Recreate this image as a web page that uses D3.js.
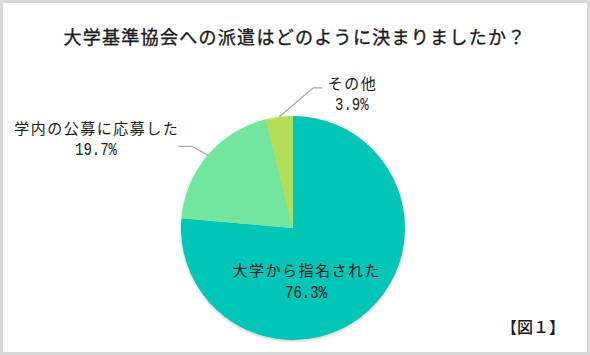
<!DOCTYPE html>
<html><head><meta charset="utf-8">
<script src="https://cdn.jsdelivr.net/npm/d3@7"></script>
<style>
html,body{margin:0;padding:0;background:#fff;}
svg{display:block;}
text{font-family:"Noto Sans CJK JP","Noto Sans",sans-serif;fill:#1a1a1a;}
.num{font-family:"Liberation Mono","DejaVu Sans Mono",monospace;}
</style></head>
<body>
<svg id="c" width="590" height="355"></svg>
<script>
const title = "大学基準協会への派遣はどのように決まりましたか？";
const categories = ["大学から指名された", "学内の公募に応募した", "その他"];
const values = [76.3, 19.7, 3.9];
const percentLabels = ["76.3%", "19.7%", "3.9%"];
const colors = ["#00c5b7", "#72e69f", "#b4de59"];
const figLabel = "【図１】";

const W = 590, H = 355;
const svg = d3.select("#c");
svg.append("rect").attr("width", W).attr("height", H).attr("fill", "#d9d9d9");
svg.append("rect").attr("x", 3).attr("y", 3).attr("width", W - 6).attr("height", H - 6).attr("fill", "#fff");

const defs = svg.append("defs");
const f = defs.append("filter").attr("id", "sh").attr("x", "-10%").attr("y", "-10%").attr("width", "120%").attr("height", "120%");
f.append("feGaussianBlur").attr("in", "SourceAlpha").attr("stdDeviation", 1.5);
f.append("feOffset").attr("dx", 0).attr("dy", 1).attr("result", "b");
f.append("feComponentTransfer").append("feFuncA").attr("type", "linear").attr("slope", 0.25);
const m = f.append("feMerge"); m.append("feMergeNode"); m.append("feMergeNode").attr("in", "SourceGraphic");

svg.append("text").attr("x", 295).attr("y", 44).attr("text-anchor", "middle")
  .attr("font-size", 18).attr("letter-spacing", 1.3)
  .attr("stroke", "#1a1a1a").attr("stroke-width", 0.35).text(title);

const cx = 293, cy = 228, r = 112;
const g = svg.append("g").attr("transform", `translate(${cx},${cy})`);
const pie = d3.pie().sort(null).value(d => d)(values);
const arc = d3.arc().innerRadius(0).outerRadius(r);
const color = d3.scaleOrdinal().domain(categories).range(colors);

g.append("g").attr("filter", "url(#sh)").selectAll("path").data(pie).join("path")
  .attr("d", arc).attr("fill", (d, i) => color(categories[i]));

const pt = (a, rr) => [rr * Math.sin(a), -rr * Math.cos(a)];
const mid = d => (d.startAngle + d.endAngle) / 2;

function label(x, y, i, dy) {
  const n = percentLabels[i].length * 8.4;
  const t = g.append("text").attr("text-anchor", "middle");
  t.append("tspan").attr("x", x + 0.75).attr("y", y).attr("font-size", 15)
    .attr("letter-spacing", 1.5).text(categories[i]);
  t.append("tspan").attr("class", "num").attr("x", x - n / 2).attr("y", y + dy)
    .attr("text-anchor", "start").attr("font-size", 18)
    .attr("textLength", n).attr("lengthAdjust", "spacingAndGlyphs")
    .text(percentLabels[i]);
}

// inside label for the main slice
{
  const c = arc.centroid(pie[0]);
  label(c[0] * 0.2 + 5.5, c[1] + 7, 0, 22);
}

// outside labels with leader lines
const outside = [
  {i: 1, dir: -1, run: 14},
  {i: 2, dir: 1, run: 9}
];
outside.forEach(o => {
  const d = pie[o.i];
  const a = mid(d);
  const p0 = pt(a, r);
  let p1;
  if (o.dir < 0) p1 = pt(a - 0.024, r * 1.156);
  else p1 = [p0[0] + 34, p0[1] - 29];
  const p2 = [p1[0] + o.dir * o.run, p1[1]];
  g.append("polyline").attr("points", [p0, p1, p2].map(p => p.join(",")).join(" "))
    .attr("fill", "none").attr("stroke", "#a6a6a6").attr("stroke-width", 1.3);
  if (o.dir < 0) label(p2[0] - 82.5, p2[1] - 12.5, o.i, 21.5);
  else label(p2[0] + 29.5, p2[1] + 1, o.i, 21.5);
});

svg.append("text").attr("x", 533).attr("y", 333).attr("text-anchor", "middle")
  .attr("font-size", 16).attr("font-weight", 500).text(figLabel);
</script>
</body></html>
